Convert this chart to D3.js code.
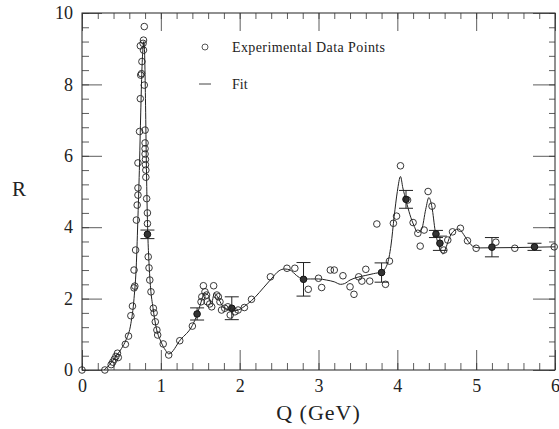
<!DOCTYPE html>
<html>
<head>
<meta charset="utf-8">
<script src="https://cdn.jsdelivr.net/npm/d3@7"></script>
<style>
  body { margin: 0; background: #fff; }
  text { font-family: "Liberation Serif", "DejaVu Serif", serif; fill: #222; }
</style>
</head>
<body>
<div id="chart"></div>
<script>
// measured points (Q in GeV, R)
var dataQ = [0, 0.29, 0.37, 0.39, 0.41, 0.43, 0.45, 0.46, 0.55, 0.59, 0.62, 0.64, 0.66, 0.67, 0.66, 0.68, 0.69, 0.70, 0.71, 0.71,
  0.71, 0.73, 0.74, 0.745, 0.755, 0.76, 0.74, 0.78, 0.79, 0.78, 0.775, 0.79, 0.80, 0.80, 0.80, 0.80, 0.805, 0.805, 0.81, 0.81,
  0.82, 0.83, 0.83, 0.84, 0.85, 0.86, 0.875, 0.905, 0.915, 0.93, 0.95, 0.96, 1.03, 1.10, 1.24, 1.40, 1.51, 1.52, 1.54, 1.56,
  1.58, 1.59, 1.62, 1.645, 1.67, 1.71, 1.73, 1.75, 1.77, 1.81, 1.85, 1.88, 1.94, 1.98, 2.06, 2.15, 2.39, 2.60, 2.70, 2.87,
  3.00, 3.04, 3.15, 3.20, 3.31, 3.40, 3.45, 3.51, 3.55, 3.60, 3.65, 3.74, 3.85, 3.90, 3.95, 3.99, 4.04, 4.13, 4.20, 4.26,
  4.29, 4.34, 4.39, 4.44, 4.59, 4.64, 4.70, 4.80, 4.89, 5.00, 5.25, 5.49, 5.99];
var dataR = [0, 0, 0.15, 0.22, 0.30, 0.38, 0.47, 0.35, 0.72, 0.95, 1.52, 1.79, 2.30, 2.35, 2.80, 3.36, 4.20, 4.62, 4.90, 5.10,
  5.80, 6.68, 7.60, 8.26, 8.30, 8.64, 9.08, 9.24, 9.62, 8.96, 9.15, 7.98, 6.72, 6.36, 6.20, 6.05, 5.90, 5.75, 5.60, 5.40,
  4.80, 4.40, 4.10, 3.17, 2.86, 2.52, 2.19, 1.73, 1.60, 1.35, 1.12, 0.98, 0.73, 0.42, 0.82, 1.23, 1.91, 2.05, 2.36, 2.19,
  2.10, 1.91, 1.85, 1.77, 2.36, 2.10, 2.05, 1.91, 1.68, 1.73, 1.77, 1.54, 1.63, 1.68, 1.75, 1.98, 2.61, 2.85, 2.85, 2.26,
  2.57, 2.31, 2.80, 2.80, 2.64, 2.33, 2.12, 2.61, 2.49, 2.82, 2.49, 4.09, 2.40, 3.05, 4.11, 4.31, 5.72, 4.76, 4.13, 3.83,
  3.47, 3.92, 5.00, 4.59, 3.36, 3.64, 3.87, 3.97, 3.62, 3.41, 3.58, 3.41, 3.45];

// points drawn with error bars
var errQ = [0.83, 1.46, 1.90, 2.81, 3.80, 4.11, 4.49, 4.54, 5.20, 5.74];
var errR = [3.80, 1.57, 1.73, 2.54, 2.73, 4.78, 3.81, 3.55, 3.44, 3.45];
var errD = [0.12, 0.17, 0.32, 0.47, 0.27, 0.25, 0.10, 0.20, 0.27, 0.10];

// fit curve
var fitQ = [0.28, 0.35, 0.42, 0.50, 0.56, 0.62, 0.66, 0.69, 0.71, 0.73, 0.745, 0.76, 0.775, 0.785, 0.795, 0.805, 0.815, 0.825,
  0.835, 0.85, 0.87, 0.90, 0.94, 1.00, 1.06, 1.10, 1.25, 1.40, 1.46, 1.51, 1.55, 1.60, 1.64, 1.68, 1.72, 1.78, 1.85, 1.90,
  1.98, 2.10, 2.20, 2.30, 2.40, 2.50, 2.57, 2.64, 2.72, 2.80, 2.90, 3.00, 3.10, 3.20, 3.28, 3.33, 3.40, 3.50, 3.60, 3.70,
  3.80, 3.87, 3.92, 3.96, 4.00, 4.04, 4.07, 4.11, 4.16, 4.21, 4.26, 4.31, 4.36, 4.40, 4.44, 4.48, 4.53, 4.58, 4.62, 4.67,
  4.72, 4.78, 4.84, 4.90, 4.97, 5.05, 5.50, 6.00];
var fitR = [0, 0.15, 0.35, 0.60, 0.85, 1.30, 2.00, 3.00, 4.30, 5.80, 7.20, 8.40, 9.05, 9.20, 8.80, 7.60, 6.00, 4.70,
  3.80, 3.00, 2.30, 1.75, 1.20, 0.80, 0.55, 0.45, 0.85, 1.25, 1.55, 1.90, 2.15, 2.10, 1.85, 2.15, 2.05, 1.80, 1.70, 1.65,
  1.68, 1.85, 2.05, 2.30, 2.55, 2.78, 2.83, 2.80, 2.65, 2.55, 2.55, 2.55, 2.52, 2.47, 2.40, 2.42, 2.52, 2.60, 2.65, 2.70,
  2.75, 2.95, 3.50, 4.30, 5.00, 5.42, 5.10, 4.75, 4.35, 4.05, 3.85, 3.95, 4.50, 4.83, 4.55, 3.90, 3.45, 3.25, 3.45, 3.75,
  3.90, 3.95, 3.80, 3.60, 3.45, 3.42, 3.43, 3.45];

var xTicks = [0, 1, 2, 3, 4, 5, 6];
var yTicks = [0, 2, 4, 6, 8, 10];

var margin = {top: 13, right: 4, bottom: 59, left: 82},
    width = 559 - margin.left - margin.right,
    height = 429 - margin.top - margin.bottom;

var svg = d3.select("#chart")
  .append("svg")
    .attr("width", 559)
    .attr("height", 429)
  .append("g")
    .attr("transform", "translate(" + margin.left + "," + margin.top + ")");

var x = d3.scaleLinear().domain([0, 6]).range([0, width]);
var y = d3.scaleLinear().domain([0, 10]).range([height, 0]);

var xMinor = d3.range(0, 6.001, 0.2);
var yMinor = d3.range(0, 10.001, 0.4);

// frame
svg.append("rect")
  .attr("width", width).attr("height", height)
  .attr("fill", "none").attr("stroke", "#222").attr("stroke-width", 1);

function styleAxis(g) {
  g.select(".domain").remove();
  g.selectAll("line").attr("stroke", "#333").attr("stroke-width", 0.8);
}

// bottom axis with labels
svg.append("g")
  .attr("transform", "translate(0," + height + ")")
  .call(d3.axisBottom(x).tickValues(xTicks).tickSize(-20).tickPadding(9).tickFormat(d3.format("d")))
  .call(styleAxis)
  .selectAll("text").style("font-size", "18px").style("font-family", "Liberation Serif, serif").attr("fill", "#222");
svg.append("g")
  .attr("transform", "translate(0," + height + ")")
  .call(d3.axisBottom(x).tickValues(xMinor).tickSize(-7).tickFormat(""))
  .call(styleAxis);
// top axis
svg.append("g")
  .call(d3.axisTop(x).tickValues(xTicks).tickSize(-18).tickFormat(""))
  .call(styleAxis);
svg.append("g")
  .call(d3.axisTop(x).tickValues(xMinor).tickSize(-6).tickFormat(""))
  .call(styleAxis);

// left axis with labels
svg.append("g")
  .call(d3.axisLeft(y).tickValues(yTicks).tickSize(-20).tickPadding(9).tickFormat(d3.format("d")))
  .call(styleAxis)
  .selectAll("text").style("font-size", "18px").style("font-family", "Liberation Serif, serif").attr("fill", "#222");
svg.append("g")
  .call(d3.axisLeft(y).tickValues(yMinor).tickSize(-7).tickFormat(""))
  .call(styleAxis);
// right axis
svg.append("g")
  .attr("transform", "translate(" + width + ",0)")
  .call(d3.axisRight(y).tickValues(yTicks).tickSize(-22).tickFormat(""))
  .call(styleAxis);
svg.append("g")
  .attr("transform", "translate(" + width + ",0)")
  .call(d3.axisRight(y).tickValues(yMinor).tickSize(-6).tickFormat(""))
  .call(styleAxis);

// axis titles
svg.append("text")
  .attr("x", x(3)).attr("y", height + 50)
  .attr("text-anchor", "middle")
  .style("font-size", "22px")
  .style("letter-spacing", "1px")
  .text("Q (GeV)");
svg.append("text")
  .attr("x", -63).attr("y", y(5) + 4)
  .attr("text-anchor", "middle")
  .style("font-size", "21px")
  .text("R");

// fit line
var fit = fitQ.map(function(q, i) { return [q, fitR[i]]; });
svg.append("path")
  .datum(fit)
  .attr("d", d3.line()
    .x(function(d) { return x(d[0]); })
    .y(function(d) { return y(d[1]); })
    .curve(d3.curveMonotoneX))
  .attr("fill", "none")
  .attr("stroke", "#222")
  .attr("stroke-width", 1);

// error bars
var errs = errQ.map(function(q, i) { return {q: q, r: errR[i], d: errD[i]}; });
var eb = svg.append("g").selectAll("g").data(errs).enter().append("g");
eb.append("line")
  .attr("x1", function(d) { return x(d.q); }).attr("x2", function(d) { return x(d.q); })
  .attr("y1", function(d) { return y(d.r - d.d); }).attr("y2", function(d) { return y(d.r + d.d); })
  .attr("stroke", "#222").attr("stroke-width", 1);
[-1, 1].forEach(function(s) {
  eb.append("line")
    .attr("x1", function(d) { return x(d.q) - 7; }).attr("x2", function(d) { return x(d.q) + 7; })
    .attr("y1", function(d) { return y(d.r + s * d.d); }).attr("y2", function(d) { return y(d.r + s * d.d); })
    .attr("stroke", "#222").attr("stroke-width", 1);
});
eb.append("circle")
  .attr("cx", function(d) { return x(d.q); })
  .attr("cy", function(d) { return y(d.r); })
  .attr("r", 3.3)
  .attr("fill", "#333").attr("stroke", "#111").attr("stroke-width", 1);

// data circles
var pts = dataQ.map(function(q, i) { return [q, dataR[i]]; });
svg.append("g").selectAll("circle").data(pts).enter().append("circle")
  .attr("cx", function(d) { return x(d[0]); })
  .attr("cy", function(d) { return y(d[1]); })
  .attr("r", 3.3)
  .attr("fill", "none")
  .attr("stroke", "#222")
  .attr("stroke-width", 0.9);

// legend
var legend = svg.append("g");
legend.append("circle")
  .attr("cx", 123).attr("cy", 34).attr("r", 3)
  .attr("fill", "none").attr("stroke", "#444").attr("stroke-width", 0.9);
legend.append("text")
  .attr("x", 150).attr("y", 39)
  .style("font-size", "14px")
  .style("letter-spacing", "0.4px")
  .text("Experimental Data Points");
legend.append("line")
  .attr("x1", 117).attr("x2", 129).attr("y1", 71).attr("y2", 71)
  .attr("stroke", "#444").attr("stroke-width", 1);
legend.append("text")
  .attr("x", 150).attr("y", 76)
  .style("font-size", "14px")
  .text("Fit");
</script>
</body>
</html>
